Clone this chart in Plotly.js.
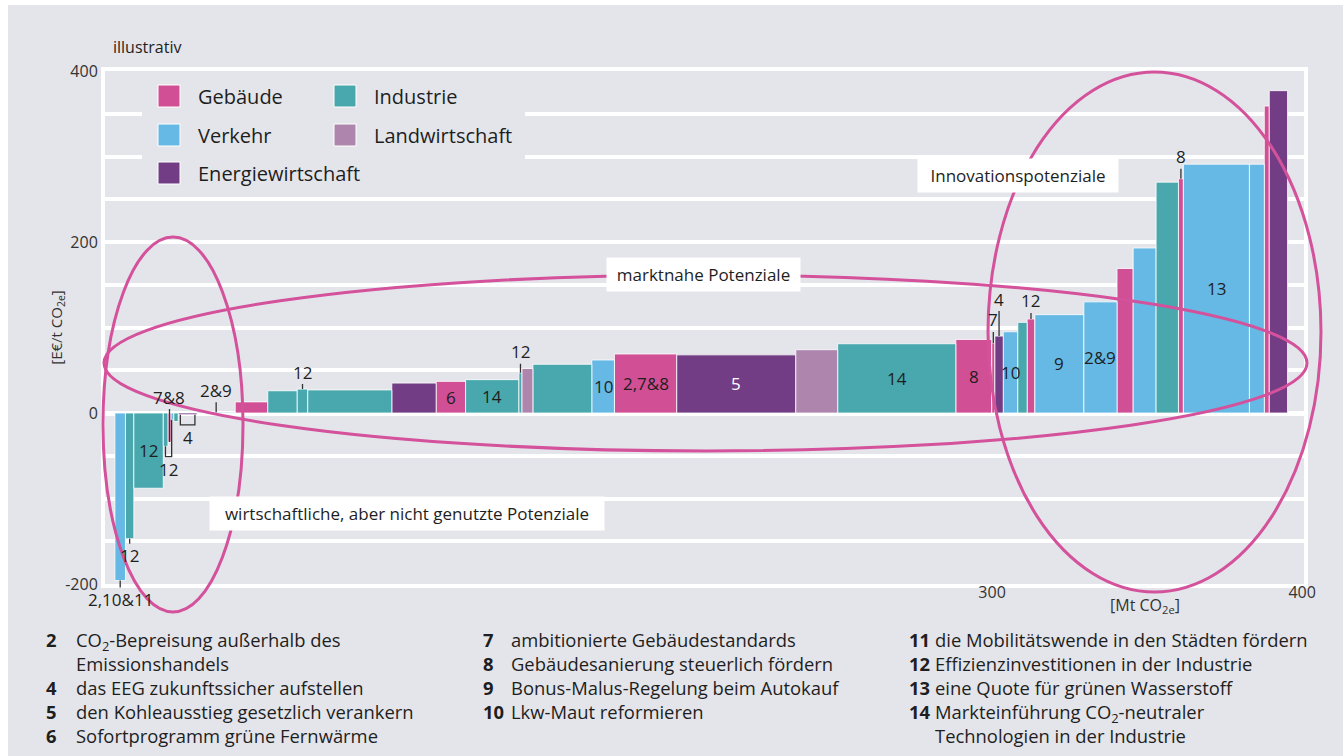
<!DOCTYPE html>
<html><head><meta charset="utf-8">
<script src="https://cdn.plot.ly/plotly-3.0.1.min.js"></script>
<style>html,body{margin:0;padding:0;background:#ffffff;} #chart{position:absolute;left:8px;top:5px;width:1335px;height:751px;}</style>
</head><body><div id="chart"></div>
<script>
// ---------------- DATA ----------------
const sectorNames = ['Gebäude','Verkehr','Energiewirtschaft','Industrie','Landwirtschaft'];
// bars in merit order (left to right)
const barSector = ['Verkehr','Industrie','Industrie','Industrie','Gebäude','Verkehr','Industrie','Energiewirtschaft','Verkehr',
  'Gebäude','Industrie','Industrie','Industrie','Energiewirtschaft','Gebäude','Industrie','Industrie','Landwirtschaft','Industrie','Verkehr',
  'Gebäude','Energiewirtschaft','Landwirtschaft','Industrie','Gebäude','Gebäude','Energiewirtschaft','Verkehr','Industrie','Gebäude',
  'Verkehr','Verkehr','Gebäude','Verkehr','Industrie','Gebäude','Verkehr','Verkehr','Gebäude','Energiewirtschaft'];
// abatement potential [Mt CO2e]
const barWidth = [3.4,2.7,9.5,1.5,1.0,0.9,1.4,6.1,12.3,
  10.5,9.5,3.4,27.1,14.3,9.5,17.2,1.0,3.5,19.0,7.3,
  20.1,38.4,13.5,38.1,11.6,1.0,2.7,4.7,3.0,2.5,
  15.8,10.7,5.2,7.4,7.2,1.6,21.3,4.8,1.6,5.9];
// abatement cost [€/t CO2e]
const barCost = [-196,-147,-88,-39,-34,-8,-10,-2,1,
  13,26,28,27,35,37,39,47,52,57,62,
  69,68,74,81,86,82,90,95,106,110,
  115,130,169,193,270,274,291,291,359,377];
// measure numbers shown on the bars
const barLabel = ['2,10&11','12','12','','7&8','','','','2&9',
  '','','12','','','6','14','12','','','10',
  '2,7&8','5','','14','8','7','4','10','','12',
  '9','2&9','','','','8','13','','',''];
const xStart = 17.1;            // cumulative potential at first bar [Mt]
const xTickVals = [300, 400];
const yTickVals = [-200, 0, 200, 400];
const yTickText = ['-200', '0', '200', '400'];
const measureNo = ['2','4','5','6','7','8','9','10','11','12','13','14'];
const measureText = [
  'CO<sub>2</sub>-Bepreisung außerhalb des\nEmissionshandels',
  'das EEG zukunftssicher aufstellen',
  'den Kohleausstieg gesetzlich verankern',
  'Sofortprogramm grüne Fernwärme',
  'ambitionierte Gebäudestandards',
  'Gebäudesanierung steuerlich fördern',
  'Bonus-Malus-Regelung beim Autokauf',
  'Lkw-Maut reformieren',
  'die Mobilitätswende in den Städten fördern',
  'Effizienzinvestitionen in der Industrie',
  'eine Quote für grünen Wasserstoff',
  'Markteinführung CO<sub>2</sub>-neutraler\nTechnologien in der Industrie'];
const measureColumn = [0,0,0,0,1,1,1,1,2,2,2,2];
const groupLabels = ['marktnahe Potenziale','Innovationspotenziale','wirtschaftliche, aber nicht genutzte Potenziale'];

// ---------------- STYLE / PLACEMENT ----------------
const sectorColor = {'Gebäude':'#d14f94','Verkehr':'#66b9e4','Energiewirtschaft':'#733d86','Industrie':'#48a8ad','Landwirtschaft':'#ad85ad'};
const BG = '#e4e5ea', TXT = '#1e1e1e', PINK = '#d4519b';
const FONT = 'Open Sans';
// callout labels (index -> vertical pixel offset of label from bar end)
const callout = {0:19, 1:17, 4:-45, 8:-22, 11:-17, 16:-21, 25:-23, 26:-37, 29:-18, 35:-22};
const brackets = [{text:'12', from:3, to:5}, {text:'4', from:7, to:7}];
// plot area in page pixels
const P = {l:105, r:1304, t:71, b:584};
const px = v => (v - P.l) / (P.r - P.l);
const py = v => (P.b - v) / (P.b - P.t);

// ---------------- BUILD ----------------
const starts = [], centers = [];
let acc = xStart;
barWidth.forEach(w => { starts.push(acc); centers.push(acc + w / 2); acc += w; });

const traces = sectorNames.map(s => {
  const idx = barSector.map((v, i) => v === s ? i : -1).filter(i => i >= 0);
  return {
    type: 'bar', name: s,
    x: idx.map(i => centers[i]), y: idx.map(i => barCost[i]), width: idx.map(i => barWidth[i]),
    marker: {color: sectorColor[s], line: {color: '#ffffff', width: 0.8}},
    showlegend: false, hoverinfo: 'skip'
  };
});

const annotations = [];
const shapes = [];
const lblFont = {family: FONT, size: 17, color: TXT};

barLabel.forEach((t, i) => {
  if (!t) return;
  if (callout.hasOwnProperty(i)) {
    annotations.push({x: centers[i], y: barCost[i], xref: 'x', yref: 'y', text: t, showarrow: true,
      arrowhead: 0, arrowwidth: 1.3, arrowcolor: '#333', ax: 0, ay: callout[i], standoff: 0, borderpad: 0, font: lblFont});
  } else {
    annotations.push({x: centers[i], y: barCost[i] / 2, xref: 'x', yref: 'y', text: t, showarrow: false,
      font: {family: FONT, size: 17, color: barSector[i] === 'Energiewirtschaft' ? '#ffffff' : TXT}});
  }
});

brackets.forEach(b => {
  const inset = 0.7;
  const xl = starts[b.from] + inset, xr = starts[b.to] + barWidth[b.to] - inset;
  const yl = barCost[b.from], yr = barCost[b.to];
  const yb = Math.min(yl, yr) - 12;
  shapes.push({type: 'path', xref: 'x', yref: 'y', layer: 'above',
    path: `M${xl},${yl} V${yb} H${xr} V${yr}`, line: {color: '#333', width: 1.3}});
  annotations.push({x: (xl + xr) / 2, y: yb, xref: 'x', yref: 'y', yanchor: 'top', text: b.text,
    showarrow: false, borderpad: 0, font: lblFont});
});

// legend backing + entries
shapes.push({type: 'rect', xref: 'paper', yref: 'paper', layer: 'above', x0: px(142), x1: px(525), y0: py(186), y1: py(80),
  fillcolor: BG, line: {width: 0}});
const legendCols = [['Gebäude','Verkehr','Energiewirtschaft'], ['Industrie','Landwirtschaft']];
const legX = [158, 334], legY = [96, 135, 173];
legendCols.forEach((col, c) => col.forEach((s, r) => {
  shapes.push({type: 'rect', xref: 'paper', yref: 'paper', layer: 'above',
    x0: px(legX[c]), x1: px(legX[c] + 22), y0: py(legY[r] + 11), y1: py(legY[r] - 11),
    fillcolor: sectorColor[s], line: {color: '#ffffff', width: 1}});
  annotations.push({xref: 'paper', yref: 'paper', x: px(legX[c] + 38), y: py(legY[r]), xanchor: 'left', yanchor: 'middle',
    text: s, showarrow: false, font: {family: FONT, size: 20, color: TXT}});
}));

// ellipses
[[103, 243, 237, 612], [104, 1307, 275, 451], [988, 1321, 72, 592]].forEach(e => {
  shapes.push({type: 'circle', xref: 'paper', yref: 'paper', layer: 'above',
    x0: px(e[0]), x1: px(e[1]), y0: py(e[3]), y1: py(e[2]), line: {color: PINK, width: 3}, fillcolor: 'rgba(0,0,0,0)'});
});

// group labels in white boxes
[[703.5, 274.5, 183], [1018, 175, 190], [407, 513.5, 384]].forEach((g, k) => {
  annotations.push({xref: 'paper', yref: 'paper', x: px(g[0]), y: py(g[1]), xanchor: 'center', yanchor: 'middle',
    text: groupLabels[k], showarrow: false, bgcolor: '#ffffff', borderpad: 5, width: g[2], height: 23,
    font: {family: FONT, size: 17, color: TXT}});
});

// other texts
annotations.push({xref: 'paper', yref: 'paper', x: px(111), y: py(47), xanchor: 'left', yanchor: 'middle',
  text: 'illustrativ', showarrow: false, font: {family: FONT, size: 16, color: TXT}});
annotations.push({xref: 'paper', yref: 'paper', x: px(1145), y: py(606), xanchor: 'center', yanchor: 'middle',
  text: '[Mt CO<sub>2e</sub>]', showarrow: false, font: {family: FONT, size: 16, color: '#333'}});

// footnotes: one multi-line block per column (numbers and texts)
const FN = 18.4, firstRow = 640, rowStep = FN * 1.3;
const colNumX = [45, 482, 908], colTxtX = [75, 510, 934];
[0, 1, 2].forEach(c => {
  const nums = [], txts = [];
  measureNo.forEach((n, k) => {
    if (measureColumn[k] !== c) return;
    const lines = measureText[k].split('\n');
    lines.forEach((l, j) => { txts.push(l); nums.push(j === 0 ? '<b>' + n + '</b>' : ' '); });
  });
  const yc = firstRow + (txts.length - 1) / 2 * rowStep;
  annotations.push({xref: 'paper', yref: 'paper', x: px(colNumX[c]), y: py(yc), xanchor: 'left', yanchor: 'middle', align: 'left',
    text: nums.join('<br>'), showarrow: false, borderpad: 0, font: {family: FONT, size: FN, color: TXT}});
  annotations.push({xref: 'paper', yref: 'paper', x: px(colTxtX[c]), y: py(yc), xanchor: 'left', yanchor: 'middle', align: 'left',
    text: txts.join('<br>'), showarrow: false, borderpad: 0, font: {family: FONT, size: FN, color: TXT}});
});

const layout = {
  width: 1335, height: 751,
  margin: {l: P.l - 8, r: 1343 - P.r, t: P.t - 5, b: 756 - P.b},
  paper_bgcolor: BG, plot_bgcolor: BG,
  barmode: 'overlay', bargap: 0,
  font: {family: FONT, color: '#333', size: 16},
  xaxis: {range: [13.9, 400.6], tickvals: xTickVals, showgrid: false, zeroline: false,
    showline: true, mirror: true, linecolor: '#ffffff', linewidth: 4, ticks: '', ticklabelstandoff: -9,
    tickfont: {family: FONT, size: 16, color: '#333'}, fixedrange: true},
  yaxis: {range: [-200, 400], tickvals: yTickVals, ticktext: yTickText, showgrid: true, gridcolor: '#ffffff', gridwidth: 4,
    minor: {dtick: 50, showgrid: true, gridcolor: '#ffffff', gridwidth: 4},
    zeroline: true, zerolinecolor: '#ffffff', zerolinewidth: 5,
    showline: true, mirror: true, linecolor: '#ffffff', linewidth: 4, ticks: '',
    tickfont: {family: FONT, size: 16, color: '#333'}, fixedrange: true,
    title: {text: '[E€/t CO<sub>2e</sub>]', font: {family: FONT, size: 15, color: '#333'}, standoff: 0}},
  shapes: shapes,
  annotations: annotations,
  showlegend: false
};

Plotly.newPlot('chart', traces, layout, {displayModeBar: false, staticPlot: true});
</script>
</body></html>
